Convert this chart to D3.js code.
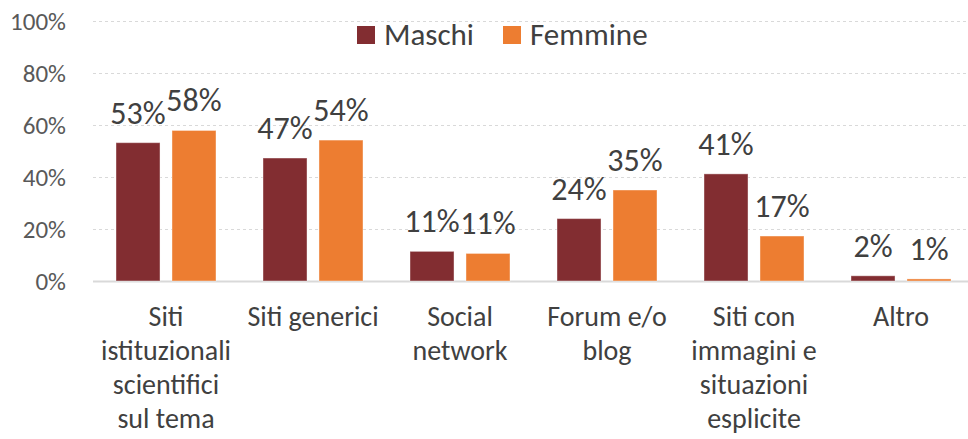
<!DOCTYPE html>
<html>
<head>
<meta charset="utf-8">
<script src="https://cdn.jsdelivr.net/npm/d3@7"></script>
<style>
	body { margin: 0; background: #fff; }
	svg { display: block; font-family: Carlito, Calibri, Lato, sans-serif; }
</style>
</head>
<body>
<svg id="chart"></svg>
<script>
// categories, each label already split on lines as in the original
let categories = [
	["Siti", "istituzionali", "scientifici", "sul tema"],
	["Siti generici"],
	["Social", "network"],
	["Forum e/o", "blog"],
	["Siti con", "immagini e", "situazioni", "esplicite"],
	["Altro"]
];
let seriesNames = ["Maschi", "Femmine"];
let maschi = [0.532, 0.473, 0.114, 0.24, 0.412, 0.02];
let femmine = [0.579, 0.542, 0.106, 0.35, 0.173, 0.008];
let yTicks = [0, 0.2, 0.4, 0.6, 0.8, 1];
let colors = ["#822D31", "#ED7D31"];

function drawChart()
{
	let svgWidth = 968, svgHeight = 439;
	let svg = d3.select("#chart")
		.attr("width", svgWidth)
		.attr("height", svgHeight);

	let x0 = d3.scaleBand()
		.domain(d3.range(categories.length))
		.range([92.5, 974.5]);
	let x1 = d3.scaleBand()
		.domain(seriesNames)
		.range([23.5, 123.5])
		.paddingInner(0.214);
	let y = d3.scaleLinear()
		.domain([0, 1])
		.range([281, 21]);

	let pct = d3.format(".0%");

	//grid
	let yAxis = svg.append("g")
		.attr("transform", "translate(93,0)")
		.call(d3.axisLeft(y).tickValues(yTicks).tickFormat(pct).tickSize(-(svgWidth - 93)).tickPadding(27));
	yAxis.select(".domain").remove();
	yAxis.selectAll(".tick line")
		.attr("stroke", "#d9d9d9")
		.attr("stroke-dasharray", d => d === 0 ? null : "3,3")
		.attr("stroke-width", d => d === 0 ? 2 : 1);
	yAxis.selectAll(".tick text")
		.attr("fill", "#595959")
		.attr("font-size", "25px")
		.attr("font-family", "Carlito, Calibri, Lato, sans-serif");

	//bars
	let values = [maschi, femmine];
	for (let s = 0; s < seriesNames.length; s++)
	{
		let g = svg.append("g");
		g.selectAll("rect")
			.data(values[s])
			.enter()
			.append("rect")
			.attr("x", (d, i) => x0(i) + x1(seriesNames[s]))
			.attr("y", d => y(d))
			.attr("width", x1.bandwidth())
			.attr("height", d => y(0) - y(d))
			.attr("fill", colors[s])
			.attr("stroke", "#fff")
			.attr("stroke-opacity", 0.4)
			.attr("stroke-width", 1);

		g.selectAll("text")
			.data(values[s])
			.enter()
			.append("text")
			.attr("x", (d, i) => x0(i) + x1(seriesNames[s]) + x1.bandwidth() / 2)
			.attr("y", d => y(d) - 19)
			.attr("text-anchor", "middle")
			.attr("fill", "#404040")
			.attr("font-size", "32px")
			.text(d => pct(d));
	}

	//category labels
	let cat = svg.append("g");
	categories.forEach((lines, i) =>
	{
		let t = cat.append("text")
			.attr("x", x0(i) + x0.bandwidth() / 2)
			.attr("y", 326)
			.attr("text-anchor", "middle")
			.attr("fill", "#404040")
			.attr("font-size", "28px");
		lines.forEach((l, j) =>
		{
			t.append("tspan")
				.attr("x", x0(i) + x0.bandwidth() / 2)
				.attr("dy", j === 0 ? 0 : 34)
				.text(l);
		});
	});

	//legend
	let legend = svg.append("g");
	let legendX = [357, 503];
	seriesNames.forEach((n, i) =>
	{
		legend.append("rect")
			.attr("x", legendX[i])
			.attr("y", 26)
			.attr("width", 18)
			.attr("height", 18)
			.attr("fill", colors[i]);
		legend.append("text")
			.attr("x", legendX[i] + 27)
			.attr("y", 45)
			.attr("fill", "#404040")
			.attr("font-size", "31px")
			.text(n);
	});
}

drawChart();
</script>
</body>
</html>
